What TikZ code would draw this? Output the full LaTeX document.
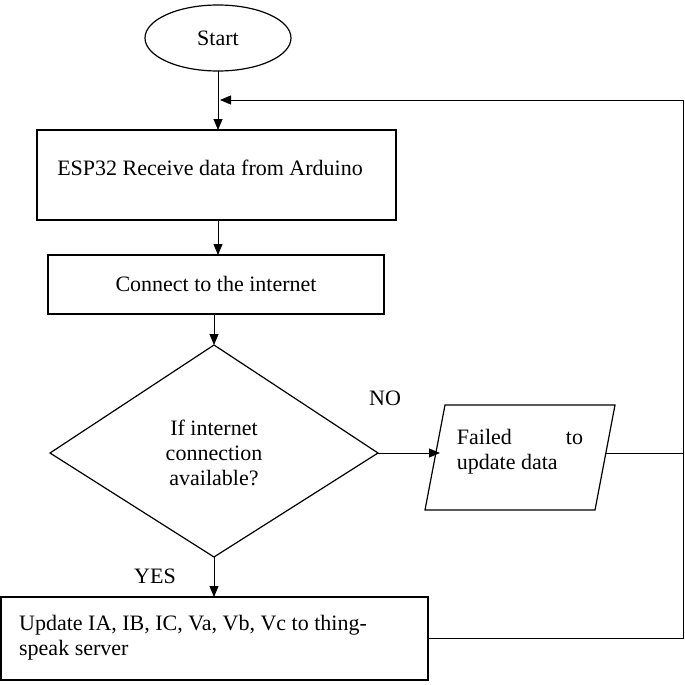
\documentclass[tikz,border=0pt]{standalone}
\usepackage{fontspec}
\setmainfont{Liberation Serif}
\usetikzlibrary{shapes.geometric,arrows.meta}
\begin{document}
\begin{tikzpicture}[x=1pt,y=-1pt,
  box/.style={draw,line width=1.2pt},
  arr/.style={-{Triangle[length=11pt,width=9pt]},line width=0.9pt},
  ln/.style={line width=0.9pt},
  every node/.style={font=\fontsize{22}{25}\selectfont}]
\useasboundingbox (0,0) rectangle (685,685);
\node[draw,ellipse,line width=1.2pt,minimum width=146pt,minimum height=66pt] (start) at (218,38) {Start};
\draw[box] (37,130) rectangle (396,220);
\node (b1) at (210,168) {ESP32 Receive data from Arduino};
\coordinate (b1t) at (218,130);
\draw[box] (48,255) rectangle (384,314);
\node (b2) at (216,284) {Connect to the internet};
\draw[box] (214,345) -- (378,453) -- (214,557) -- (50,453) -- cycle;
\node[align=center] (d) at (214,453) {If internet\\connection\\available?};
\draw[box] (445,405) -- (615,405) -- (595,510) -- (425,510) -- cycle;
\node[align=left] (f) at (520,452) {Failed\hspace{54pt}to\\update data};
\draw[box] (1,597) rectangle (428,680);
\node[align=left] (b3) at (193,638) {Update IA, IB, IC, Va, Vb, Vc to thing-\\speak server};
\node (no) at (385,398) {NO};
\node (yes) at (155,576) {YES};
\coordinate (s1) at (218,71);
\draw[arr] (s1) -- (b1t);
\draw[arr] (218,220) -- (218,255);
\draw[arr] (214,314) -- (214,345);
\draw[arr] (378,453) -- (440,453);
\draw[arr] (214,557) -- (214,597);
\draw[ln] (605,453) -- (683,453);
\draw[ln] (428,638) -- (683,638) -- (683,100);
\draw[arr] (683,100) -- (220,100);
\end{tikzpicture}
\end{document}
